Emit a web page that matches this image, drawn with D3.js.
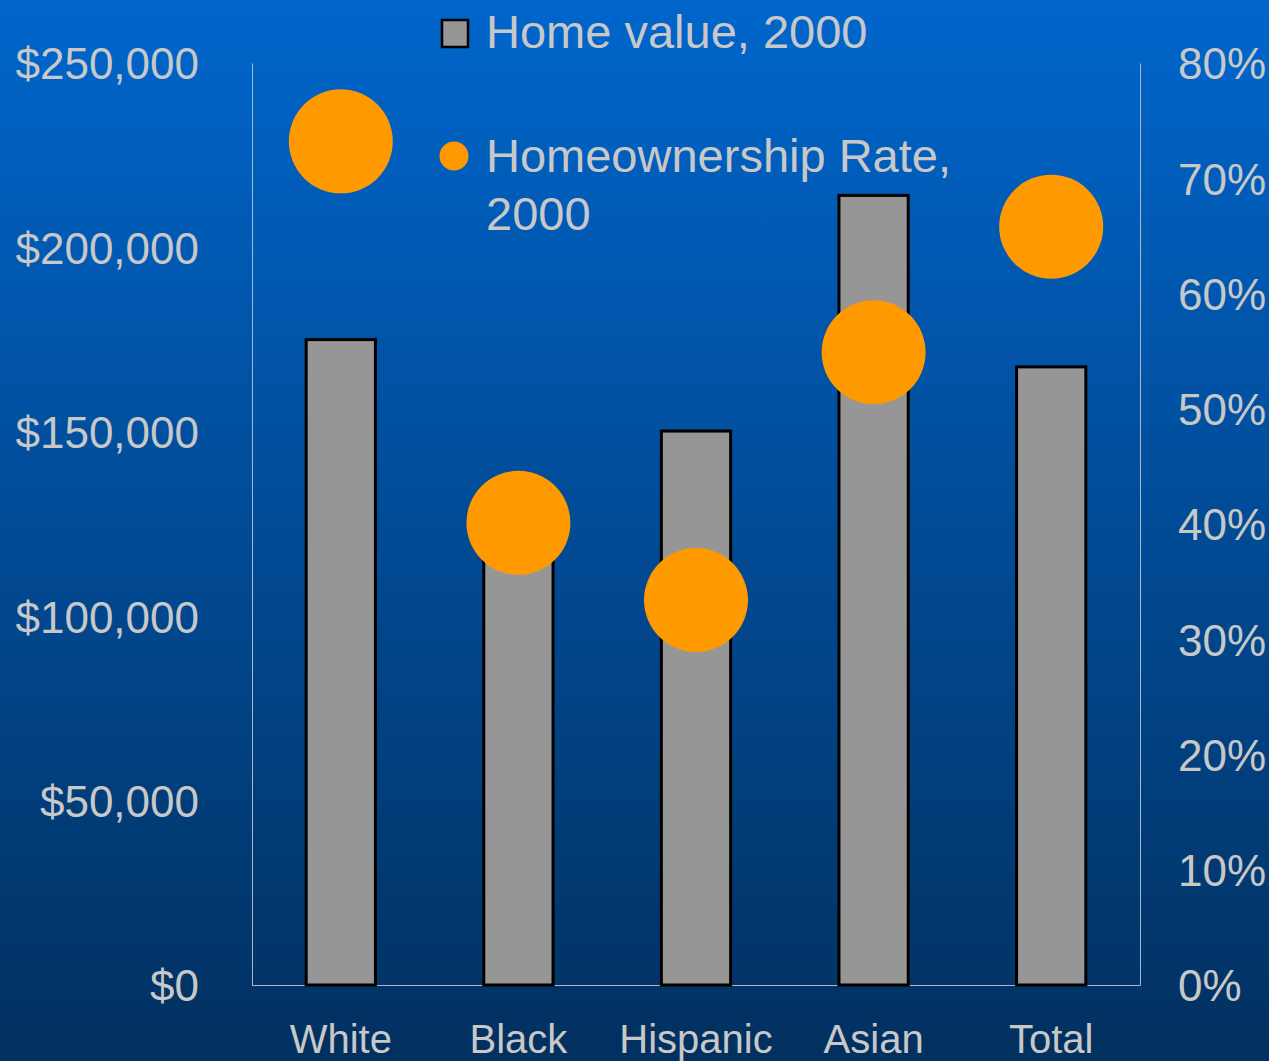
<!DOCTYPE html>
<html>
<head>
<meta charset="utf-8">
<script src="https://cdn.jsdelivr.net/npm/d3@7"></script>
<style>
  body { margin: 0; background: #003366; }
  svg { display: block; font-family: "Liberation Sans", Arial, sans-serif; }
</style>
</head>
<body>
<svg id="chart" width="1269" height="1061"></svg>
<script>
// Data
var categories = ['White', 'Black', 'Hispanic', 'Asian', 'Total'];
var homeValues = [175000, 122000, 150200, 214100, 167600];
var ownershipRates = [0.732, 0.401, 0.334, 0.549, 0.658];
var valueTicks = [0, 50000, 100000, 150000, 200000, 250000];
var rateTicks = [0, 0.1, 0.2, 0.3, 0.4, 0.5, 0.6, 0.7, 0.8];

var width = 1269;
var height = 1061;
// plot edges (window.top is reserved, so prefixed names)
var plotLeft = 252, plotRight = 1140, plotTop = 63, plotBottom = 985;
var textColor = '#c8c8c8';

var svg = d3.select('#chart');

// background gradient
var grad = svg.append('defs').append('linearGradient')
  .attr('id', 'bg').attr('x1', 0).attr('y1', 0).attr('x2', 0).attr('y2', 1);
grad.append('stop').attr('offset', '0%').attr('stop-color', '#0066cc');
grad.append('stop').attr('offset', '100%').attr('stop-color', '#02305f');

svg.append('rect')
  .attr('width', width).attr('height', height)
  .attr('fill', 'url(#bg)');

// scales
var x = d3.scaleBand().domain(categories).range([plotLeft, plotRight]);
var yValue = d3.scaleLinear().domain([0, 250000]).range([plotBottom, plotTop]);
var yRate = d3.scaleLinear().domain([0, 0.8]).range([plotBottom, plotTop]);

var data = categories.map(function (c, i) {
  return { cat: c, value: homeValues[i], rate: ownershipRates[i] };
});

// axes
var leftAxis = d3.axisLeft(yValue).tickValues(valueTicks)
  .tickFormat(function (d) { return '$' + d3.format(',')(d); })
  .tickSize(0).tickPadding(53);
var rightAxis = d3.axisRight(yRate).tickValues(rateTicks)
  .tickFormat(d3.format('.0%'))
  .tickSize(0).tickPadding(38);
var bottomAxis = d3.axisBottom(x).tickSize(0).tickPadding(40);

function styleAxis(g) {
  g.attr('font-family', null);
  g.select('.domain').attr('stroke', '#a9b8cc').attr('stroke-width', 1);
  g.selectAll('text').attr('fill', textColor);
}

svg.append('g').attr('transform', 'translate(' + plotLeft + ',0)')
  .call(leftAxis).call(styleAxis)
  .selectAll('text').attr('font-size', 44).attr('dy', '0.36em');

svg.append('g').attr('transform', 'translate(' + plotRight + ',0)')
  .call(rightAxis).call(styleAxis)
  .selectAll('text').attr('font-size', 44).attr('dy', '0.36em');

svg.append('g').attr('transform', 'translate(0,' + plotBottom + ')')
  .call(bottomAxis).call(styleAxis)
  .selectAll('text').attr('font-size', 40).attr('dy', '0.71em');

// bars
var barW = x.bandwidth() * 0.39;
svg.append('g').selectAll('rect')
  .data(data)
  .enter()
  .append('rect')
  .attr('x', function (d) { return x(d.cat) + (x.bandwidth() - barW) / 2; })
  .attr('y', function (d) { return yValue(d.value); })
  .attr('width', barW)
  .attr('height', function (d) { return plotBottom - yValue(d.value); })
  .attr('fill', '#969696')
  .attr('stroke', '#000')
  .attr('stroke-width', 3);

// homeownership dots
svg.append('g').selectAll('circle')
  .data(data)
  .enter()
  .append('circle')
  .attr('cx', function (d) { return x(d.cat) + x.bandwidth() / 2; })
  .attr('cy', function (d) { return yRate(d.rate); })
  .attr('r', 52)
  .attr('fill', '#ff9900');

// legend
var legend = svg.append('g').attr('fill', textColor).attr('font-size', 47);
legend.append('rect')
  .attr('x', 442).attr('y', 20).attr('width', 26).attr('height', 27)
  .attr('fill', '#969696').attr('stroke', '#000').attr('stroke-width', 2.5);
legend.append('text').attr('x', 486).attr('y', 48).text('Home value, 2000');
legend.append('circle')
  .attr('cx', 454).attr('cy', 156).attr('r', 14.5).attr('fill', '#ff9900');
legend.append('text').attr('x', 486).attr('y', 172).text('Homeownership Rate,');
legend.append('text').attr('x', 486).attr('y', 230).text('2000');
</script>
</body>
</html>
